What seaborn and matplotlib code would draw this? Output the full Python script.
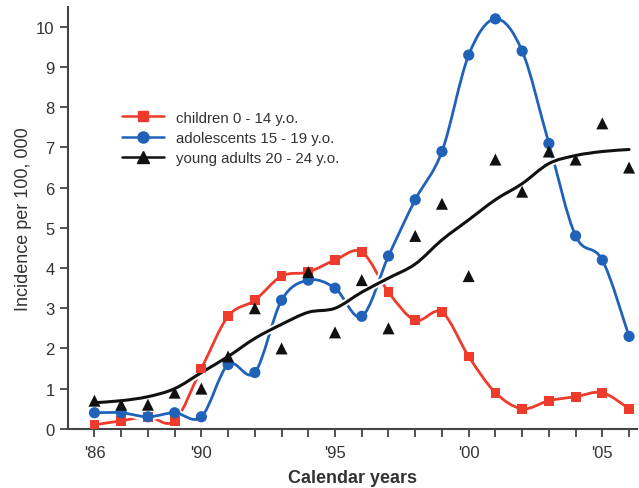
import matplotlib
matplotlib.use("Agg")
import matplotlib.pyplot as plt
import matplotlib.patheffects as pe
from matplotlib.path import Path
from matplotlib.patches import PathPatch
from matplotlib.lines import Line2D
import numpy as np
import pandas as pd
import seaborn as sns

years = list(range(1986, 2007))
children = [0.1, 0.2, 0.3, 0.2, 1.5, 2.8, 3.2, 3.8, 3.9, 4.2, 4.4,
            3.4, 2.7, 2.9, 1.8, 0.9, 0.5, 0.7, 0.8, 0.9, 0.5]
adolescents = [0.4, 0.4, 0.3, 0.4, 0.3, 1.6, 1.4, 3.2, 3.7, 3.5, 2.8,
               4.3, 5.7, 6.9, 9.3, 10.2, 9.4, 7.1, 4.8, 4.2, 2.3]
young_adults = [0.7, 0.6, 0.6, 0.9, 1.0, 1.8, 3.0, 2.0, 3.9, 2.4, 3.7,
                2.5, 4.8, 5.6, 3.8, 6.7, 5.9, 6.9, 6.7, 7.6, 6.5]
# fitted trend line drawn for the young adults
young_trend = [0.65, 0.7, 0.8, 1.0, 1.4, 1.8, 2.25, 2.6, 2.9, 3.0, 3.4,
               3.75, 4.1, 4.7, 5.2, 5.7, 6.1, 6.6, 6.8, 6.9, 6.95]
tick_years = [1986, 1990, 1995, 2000, 2005]
tick_labels = ["'86", "'90", "'95", "'00", "'05"]

RED = "#ee3b2b"
BLUE = "#1f62b8"
BLACK = "#111111"
AXC = "#444444"

sns.set_style("ticks")
plt.rcParams['font.family'] = ['Liberation Sans', 'DejaVu Sans']


def smooth_path(x, y):
    # Catmull-Rom curve through the points, as cubic Bezier segments
    p = np.column_stack([x, y]).astype(float)
    ext = np.vstack([p[0], p, p[-1]])
    verts = [p[0]]
    codes = [Path.MOVETO]
    for i in range(len(p) - 1):
        p0, p1, p2, p3 = ext[i], ext[i + 1], ext[i + 2], ext[i + 3]
        verts += [p1 + (p2 - p0) / 6, p2 - (p3 - p1) / 6, p2]
        codes += [Path.CURVE4] * 3
    return Path(verts, codes)


def halo(w):
    return [pe.Stroke(linewidth=w + 3, foreground="white"), pe.Normal()]


df = pd.DataFrame({"year": years, "children": children,
                   "adolescents": adolescents, "young": young_adults})

fig, ax = plt.subplots(figsize=(6.39, 4.89), dpi=100)
fig.subplots_adjust(left=0.106, right=0.997, bottom=0.121, top=0.984)

for vals, col, z in [(children, RED, 2), (adolescents, BLUE, 3), (young_trend, BLACK, 4)]:
    patch = PathPatch(smooth_path(years, vals), facecolor="none", edgecolor=col,
                      lw=2.0 if col != BLACK else 2.2, zorder=z, capstyle="round")
    patch.set_path_effects(halo(2))
    ax.add_patch(patch)

sns.scatterplot(data=df, x="year", y="children", marker="s", s=50, color=RED,
                edgecolor="none", ax=ax, zorder=5)
sns.scatterplot(data=df, x="year", y="adolescents", marker="o", s=65, color=BLUE,
                edgecolor="none", ax=ax, zorder=6)
sns.scatterplot(data=df, x="year", y="young", marker="^", s=75, color=BLACK,
                edgecolor="none", ax=ax, zorder=7)

ax.set_xlim(1985, 2006.3)
ax.set_ylim(0, 10.5)
ax.set_xticks(years)
ax.set_xticklabels([tick_labels[tick_years.index(y)] if y in tick_years else "" for y in years])
ax.set_yticks(range(0, 11))
ax.tick_params(axis="both", colors=AXC, labelcolor="#333333", labelsize=12,
               length=6, width=1.3, direction="out")
ax.tick_params(axis="x", pad=6)
for s in ["top", "right"]:
    ax.spines[s].set_visible(False)
for s in ["left", "bottom"]:
    ax.spines[s].set_color(AXC)
    ax.spines[s].set_linewidth(1.5)

ax.set_xlabel("Calendar years", fontsize=13, fontweight="bold", color="#333333", labelpad=6)
ax.set_ylabel("Incidence per 100, 000", fontsize=13, color="#333333", labelpad=3)

handles = [
    Line2D([], [], color=RED, lw=1.8, marker="s", markersize=7),
    Line2D([], [], color=BLUE, lw=1.8, marker="o", markersize=8),
    Line2D([], [], color=BLACK, lw=1.8, marker="^", markersize=8),
]
labels = ["children 0 - 14 y.o.", "adolescents 15 - 19 y.o.", "young adults 20 - 24 y.o."]
ax.legend(handles, labels, loc="upper left", bbox_to_anchor=(0.083, 0.772), frameon=False,
          fontsize=10.8, handlelength=2.8, handletextpad=0.8, labelspacing=0.42,
          borderpad=0, labelcolor="#333333")

fig.savefig("out.png", dpi=100)
